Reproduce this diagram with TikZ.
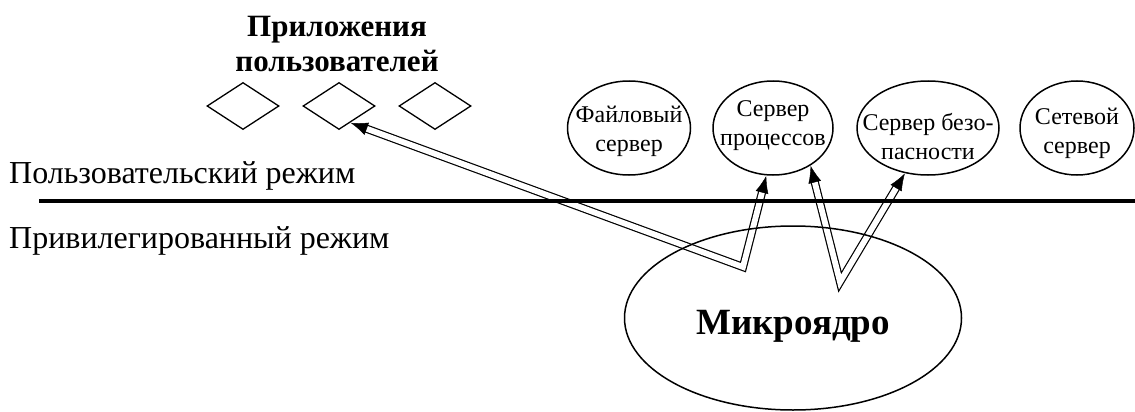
\documentclass[tikz,border=0pt]{standalone}
\usepackage{fontspec}
\setmainfont{Liberation Serif}
\usetikzlibrary{arrows.meta,shapes.geometric,decorations.markings}
\tikzset{
  % user application
  appnode/.style={diamond, draw, line width=1.3pt, minimum width=72pt, minimum height=47pt, inner sep=0pt},
  % server in user space
  srvnode/.style={ellipse, draw, line width=1.5pt, minimum width=#1, minimum height=94pt, inner sep=0pt},
  srvnode/.default={120pt},
  % server caption
  srvtext/.style={align=center, inner sep=0pt, font=\fontsize{24}{29}\selectfont},
  % mode caption
  modetext/.style={anchor=base west, inner sep=0pt, font=\fontsize{32}{36}\selectfont},
  % message passed through the kernel: hollow line ...
  msgline/.style={double, line width=1.2pt, double distance=5.8pt, shorten <=14pt, shorten >=14pt},
  % ... and solid heads at both ends
  msgtips/.style={
    decoration={markings,
      mark=at position 0.001 with {\arrowreversed{Latex[length=17pt,width=13pt]}},
      mark=at position 0.999 with {\arrow{Latex[length=17pt,width=13pt]}}},
    postaction={decorate}
  },
}

\begin{document}
\begin{tikzpicture}[x=1pt,y=-1pt]
  \useasboundingbox (0,0) rectangle (1135,412);
  \clip (0,0) rectangle (1135,412);

  % applications
  \node[align=center, inner sep=0pt, font=\bfseries\fontsize{31}{35}\selectfont] (apptitle) at (337,44)
    {Приложения\\пользователей};
  \node[appnode] (app1) at (243,106) {};
  \node[appnode] (app2) at (339,106) {};
  \node[appnode] (app3) at (435,106) {};

  % servers
  \node[srvnode=123pt] (fsrv) at (629,128) {};
  \node[srvtext] (ftxt) at (629,131) {Файловый\\сервер};
  \node[srvnode=120pt] (psrv) at (773,128) {};
  \node[srvtext] (ptxt) at (773,126) {Сервер\\процессов};
  \node[srvnode=142pt] (ssrv) at (928,128) {};
  \node[srvtext] (stxt) at (928,137) {Сервер безо-\\пасности};
  \node[srvnode=114pt] (nsrv) at (1077,128) {};
  \node[srvtext] (ntxt) at (1077,133) {Сетевой\\сервер};

  % messages
  \coordinate (va) at (743,267);
  \coordinate (vb) at (840,282);
  \draw[msgline] (app2.-56) -- (va) -- (psrv.-98);
  \path[msgtips] (app2.-56) -- (va) -- (psrv.-98);
  \draw[msgline] (psrv.-45) -- (vb) -- (ssrv.-117);
  \path[msgtips] (psrv.-45) -- (vb) -- (ssrv.-117);

  % mode boundary
  \node[modetext] (umode) at (9,183) {Пользовательский режим};
  \node[modetext] (pmode) at (9,248) {Привилегированный режим};
  \coordinate (bl) at (39,201);
  \coordinate (br) at (1135,201);
  \draw[line width=4pt] (bl) -- (br);

  % kernel
  \node[ellipse, draw, line width=1.5pt, minimum width=337pt, minimum height=184pt] (kern) at (793,318) {};
  \node[inner sep=0pt, font=\bfseries\fontsize{37}{42}\selectfont] (ktxt) at (793,326) {Микроядро};
\end{tikzpicture}
\end{document}
